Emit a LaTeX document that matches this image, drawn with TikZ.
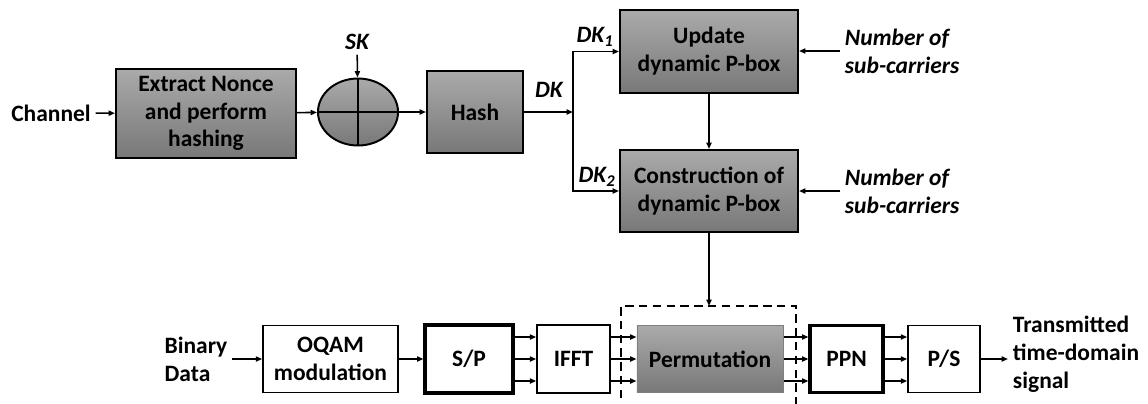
\documentclass[tikz,border=0pt]{standalone}
\usepackage{fontspec}
\setmainfont{Carlito}
\usetikzlibrary{arrows.meta,shapes.geometric,calc}
\definecolor{grauo}{HTML}{AAAAAA}
\definecolor{grauu}{HTML}{787878}
\definecolor{rand}{HTML}{7F7F7F}
\tikzset{
  pfeil/.style={-{Triangle[length=4.5pt,width=3.6pt]},line width=1.1pt},
  gblock/.style={draw,line width=1.4pt,top color=grauo,bottom color=grauu,align=center,inner sep=0pt},
  wblock/.style={draw,line width=1.1pt,fill=white,align=center,inner sep=0pt},
  wblockd/.style={wblock,line width=2.2pt},
  pblock/.style={draw=rand,line width=0.7pt,top color=grauo,bottom color=grauu,align=center,inner sep=0pt},
  schl/.style={font=\fontsize{16.7}{19.8}\selectfont\bfseries\itshape},
  rahmen/.style={dash pattern=on 6pt off 3.8pt,line width=1.5pt},
}

\begin{document}
\begin{tikzpicture}[x=0.025cm,y=-0.025cm,font=\fontsize{16.7}{19.8}\selectfont\bfseries]
  \useasboundingbox (0,0) rectangle (1148,403);
  % key path
  \node (chan) at (51,113) {Channel};
  \node[gblock,minimum width=4.5cm,minimum height=2.225cm] (ext) at (206,113.5) {Extract Nonce\\and perform\\hashing};
  \node[gblock,ellipse,minimum width=2cm,minimum height=1.675cm] (xor) at (358,112) {};
  \draw[line width=1.4pt] (xor.north) -- (xor.south) (xor.west) -- (xor.east);
  \node[schl] (sk) at (357,42) {SK};
  \node[gblock,minimum width=2.4cm,minimum height=2.05cm] (hash) at (475,112) {Hash};
  \coordinate (split) at (573,112);
  \node[schl] (dk) at (549,90) {DK};
  \draw[pfeil] (chan) -- (ext);
  \draw[pfeil] (ext) -- (xor);
  \draw[pfeil] (sk) -- (xor);
  \draw[pfeil] (xor) -- (hash);
  \draw[pfeil] (hash) -- (split);
  % P-box
  \node[gblock,minimum width=4.45cm,minimum height=2.075cm] (upd) at (709,51.5) {Update\\dynamic P-box};
  \node[gblock,minimum width=4.45cm,minimum height=2.05cm] (con) at (709,191) {Construction of\\dynamic P-box};
  \node[schl] (dk1) at (595,37) {DK\textsubscript{1}};
  \node[schl] (dk2) at (597,177) {DK\textsubscript{2}};
  \draw[pfeil] (split) |- (upd.west);
  \draw[pfeil] (split) |- (con.west);
  \draw[pfeil] (upd) -- (con);
  \node[schl,align=left,anchor=west] (nsc1) at (840,51) {Number of\\sub-carriers};
  \node[schl,align=left,anchor=west] (nsc2) at (840,191) {Number of\\sub-carriers};
  \draw[pfeil] (nsc1.west) -- (nsc1.west -| upd.east);
  \draw[pfeil] (nsc2.west) -- (nsc2.west -| con.east);
  % transmitter
  \node[align=left] (bin) at (196,359) {Binary\\Data};
  \node[wblock,minimum width=3.375cm,minimum height=1.675cm] (oqam) at (330.5,359) {OQAM\\modulation};
  \node[wblockd,minimum width=2.2cm,minimum height=1.7cm] (sp) at (469,359) {S/P};
  \node[wblock,minimum width=1.825cm,minimum height=1.7cm] (ifft) at (573.5,359) {IFFT};
  \node[pblock,minimum width=3.65cm,minimum height=1.675cm] (perm) at (710,359) {Permutation};
  \node[wblockd,minimum width=1.825cm,minimum height=1.675cm] (ppn) at (846.5,359) {PPN};
  \node[wblock,minimum width=1.8cm,minimum height=1.675cm] (ps) at (944,359) {P/S};
  \node[align=left,anchor=west] (tx) at (1008,354) {Transmitted\\time-domain\\signal};
  \draw[rahmen] (621,412) -- (621,306) -- (796,306) -- (796,412);
  \coordinate (ptop) at (709,306);
  \draw[pfeil] (con) -- (ptop);
  \draw[pfeil] (bin) -- (oqam);
  \draw[pfeil] (oqam) -- (sp);
  \foreach \a/\b in {sp/ifft,ifft/perm,perm/ppn,ppn/ps}
    \foreach \d in {-22,0,22}
      \draw[pfeil] ($(\a.east)+(0,\d)$) -- ($(\b.west)+(0,\d)$);
  \draw[pfeil] (ps.east) -- (ps.east -| tx.west);
\end{tikzpicture}
\end{document}
